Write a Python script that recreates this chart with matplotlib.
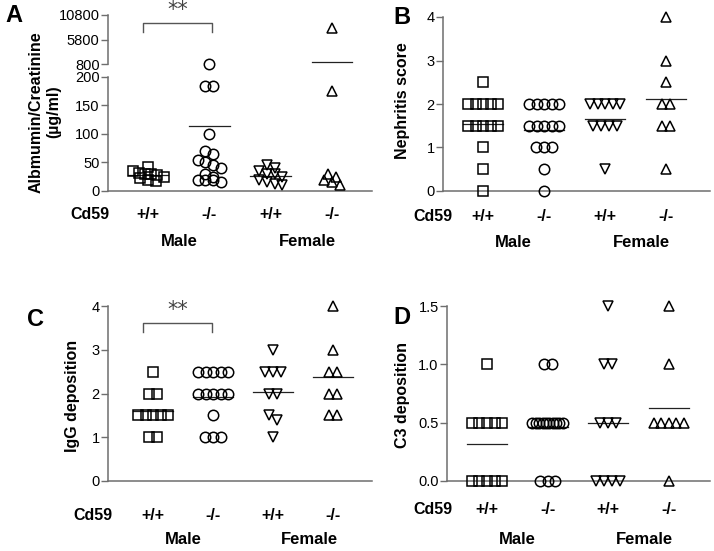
import numpy as np
import matplotlib
matplotlib.use("Agg")
import matplotlib.pyplot as plt
import matplotlib.transforms as mtransforms

plt.rcParams['font.family'] = ['Liberation Sans', 'DejaVu Sans']

groups = ["+/+", "-/-", "+/+", "-/-"]
markers = ["s", "o", "v", "^"]

# A: albumin/creatinine (ug/ml)
alb_m_wt = [42, 35, 32, 30, 30, 28, 25, 22, 20, 18]
alb_m_ko = [900, 185, 185, 100, 70, 65, 55, 50, 45, 40, 30, 25, 20, 20, 20, 15]
alb_f_wt = [45, 40, 35, 30, 30, 25, 20, 15, 12, 10]
alb_f_ko = [8100, 175, 30, 25, 20, 15, 10]

# B: nephritis score
neph_m_wt = [2.5, 2, 2, 2, 2, 2, 1.5, 1.5, 1.5, 1.5, 1.5, 1, 0.5, 0]
neph_m_ko = [2, 2, 2, 2, 2, 1.5, 1.5, 1.5, 1.5, 1.5, 1, 1, 1, 0.5, 0]
neph_f_wt = [2, 2, 2, 2, 2, 1.5, 1.5, 1.5, 1.5, 0.5]
neph_f_ko = [4, 3, 2.5, 2, 2, 1.5, 1.5, 0.5]

# C: IgG deposition
igg_m_wt = [2.5, 2, 2, 1.5, 1.5, 1.5, 1.5, 1.5, 1, 1]
igg_m_ko = [2.5, 2.5, 2.5, 2.5, 2.5, 2, 2, 2, 2, 2, 1.5, 1, 1, 1]
igg_f_wt = [3, 2.5, 2.5, 2.5, 2, 2, 1.5, 1.4, 1]
igg_f_ko = [4, 3, 2.5, 2.5, 2, 2, 1.5, 1.5]

# D: C3 deposition
c3_m_wt = [1, 0.5, 0.5, 0.5, 0.5, 0.5, 0, 0, 0, 0, 0]
c3_m_ko = [1, 1, 0.5, 0.5, 0.5, 0.5, 0.5, 0.5, 0.5, 0.5, 0.5, 0.5, 0, 0, 0]
c3_f_wt = [1.5, 1, 1, 0.5, 0.5, 0.5, 0, 0, 0, 0]
c3_f_ko = [1.5, 1, 0.5, 0.5, 0.5, 0.5, 0.5, 0]

gray = "#6e6e6e"


# broken y axis of panel A: 0-200 and 800-10800
def fwd(v):
    v = np.asarray(v, float)
    return np.where(v <= 200, v * 114 / 200,
                    np.where(v < 800, 114 + (v - 200) * 13 / 600,
                             127 + (v - 800) * 49 / 10000))


def inv(y):
    y = np.asarray(y, float)
    return np.where(y <= 114, y * 200 / 114,
                    np.where(y < 127, 200 + (y - 114) * 600 / 13,
                             800 + (y - 127) * 10000 / 49))


def spread(vals, pos, keys, step=0.13, maxw=0.5):
    # put points that share a value side by side, like a column scatter
    xs = np.empty(len(vals))
    for k in np.unique(keys):
        idx = np.where(keys == k)[0]
        n = len(idx)
        s = step if n < 2 else min(step, maxw / (n - 1))
        xs[idx] = pos + (np.arange(n) - (n - 1) / 2) * s
    return xs


fig = plt.figure(figsize=(7.14, 5.51), dpi=100)


def panel(rect, series, xlim, ylim, yticks, ylabels, binfunc):
    ax = fig.add_axes(rect)
    for i, vals in enumerate(series):
        vals = np.asarray(vals, float)
        pos = i + 1
        ax.plot([pos - 0.33, pos + 0.33], [vals.mean()] * 2, color="#222222", lw=0.9, zorder=2)
        xs = spread(vals, pos, binfunc(vals))
        ax.plot(xs, vals, ls="none", marker=markers[i], ms=7.5, mfc="none",
                mec="black", mew=1.1, clip_on=False, zorder=3)
    ax.set_xlim(*xlim)
    ax.set_ylim(*ylim)
    ax.set_yticks(yticks)
    ax.set_yticklabels(ylabels)
    ax.set_xticks([])
    for s in ["top", "right"]:
        ax.spines[s].set_visible(False)
    for s in ["left", "bottom"]:
        ax.spines[s].set_color(gray)
        ax.spines[s].set_linewidth(1.1)
    ax.tick_params(axis="y", direction="out", length=5, width=1, color=gray,
                   labelsize=10.5, pad=1)
    return ax


def under_labels(ax, dy1, dy2, cd_x, male_x=1.5, female_x=3.6):
    base = ax.get_xaxis_transform()
    t1 = mtransforms.offset_copy(base, fig=fig, y=-dy1, units="dots")
    t2 = mtransforms.offset_copy(base, fig=fig, y=-dy2, units="dots")
    ax.text(cd_x, 0, "Cd59", transform=t1, ha="center", va="center",
            fontsize=11.5, fontweight="bold")
    for i, g in enumerate(groups):
        ax.text(i + 1, 0, g, transform=t1, ha="center", va="center",
                fontsize=11.5, fontweight="bold")
    ax.text(male_x, 0, "Male", transform=t2, ha="center", va="center",
            fontsize=12, fontweight="bold")
    ax.text(female_x, 0, "Female", transform=t2, ha="center", va="center",
            fontsize=12, fontweight="bold")


def bracket(ax, x1, x2, ytop, ybot, ystar):
    tr = ax.get_xaxis_transform()
    ax.plot([x1, x1, x2, x2], [ybot, ytop, ytop, ybot], color="#555555", lw=1,
            transform=tr, clip_on=False)
    ax.text((x1 + x2) / 2, ystar, "**", transform=tr, ha="center", va="center",
            fontsize=15, color="#444444", family="DejaVu Sans")


# panel A
axA = panel([108 / 714, 1 - 191 / 551, 264 / 714, 176 / 551],
            [alb_m_wt, alb_m_ko, alb_f_wt, alb_f_ko], (0.34, 4.66), (0, 10800),
            [], [], lambda v: np.round(fwd(v) / 9))
axA.set_yscale("function", functions=(fwd, inv))
axA.set_ylim(0, 10800)
axA.set_yticks([0, 50, 100, 150, 200, 800, 5800, 10800])
axA.set_yticklabels(["0", "50", "100", "150", "200", "800", "5800", "10800"])
axA.minorticks_off()
axA.spines["left"].set_visible(False)
ytr = axA.get_yaxis_transform()
for lo, hi in [(0, 200), (800, 10800)]:
    axA.plot([0, 0], [lo, hi], color=gray, lw=1.1, transform=ytr, clip_on=False)
under_labels(axA, 24, 51, 0.05)
bracket(axA, 0.92, 2.05, 0.955, 0.903, 1.03)

# panel B
axB = panel([443 / 714, 1 - 191 / 551, 267 / 714, 174 / 551],
            [neph_m_wt, neph_m_ko, neph_f_wt, neph_f_ko], (0.34, 4.72), (0, 4),
            [0, 1, 2, 3, 4], ["0", "1", "2", "3", "4"], lambda v: np.round(v, 3))
under_labels(axB, 26, 52, 0.18)

# panel C
axC = panel([108 / 714, 1 - 481 / 551, 264 / 714, 175 / 551],
            [igg_m_wt, igg_m_ko, igg_f_wt, igg_f_ko], (0.25, 4.65), (0, 4),
            [0, 1, 2, 3, 4], ["0", "1", "2", "3", "4"], lambda v: np.round(v * 2))
under_labels(axC, 34, 59, 0.0)
bracket(axC, 0.83, 1.98, 0.903, 0.851, 0.977)

# panel D
axD = panel([447 / 714, 1 - 481 / 551, 263 / 714, 175 / 551],
            [c3_m_wt, c3_m_ko, c3_f_wt, c3_f_ko], (0.34, 4.68), (0, 1.5),
            [0, 0.5, 1.0, 1.5], ["0.0", "0.5", "1.0", "1.5"], lambda v: np.round(v, 3))
under_labels(axD, 29, 59, 0.11)

# axis titles and panel letters
ylab = dict(rotation=90, ha="center", va="center", fontsize=11.5, fontweight="bold")
fig.text(45 / 714, 1 - 112 / 551, "Albmumin/Creatinine\n(µg/ml)", multialignment="center", **ylab)
fig.text(402 / 714, 1 - 101 / 551, "Nephritis score", **ylab)
fig.text(72 / 714, 1 - 396 / 551, "IgG deposition", **ylab)
fig.text(402 / 714, 1 - 395 / 551, "C3 deposition", **ylab)

for letter, px, py in [("A", 14, 16), ("B", 402, 17), ("C", 35, 320), ("D", 402, 318)]:
    fig.text(px / 714, 1 - py / 551, letter, ha="center", va="center",
             fontsize=17, fontweight="bold")

fig.savefig("out.png", dpi=100)
